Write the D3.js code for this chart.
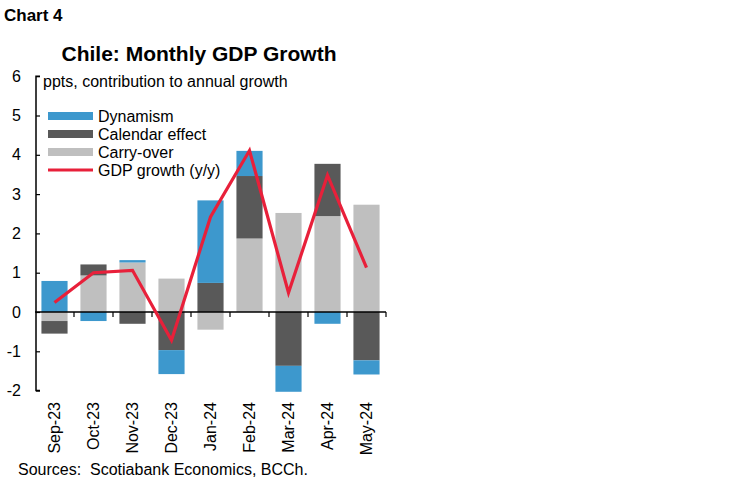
<!DOCTYPE html>
<html>
<head>
<meta charset="utf-8">
<script src="https://cdn.jsdelivr.net/npm/d3@7"></script>
<style>
  body { margin: 0; background: #fff; }
  svg text { font-family: "Liberation Sans", Arial, sans-serif; }
</style>
</head>
<body>
<svg id="chart" width="748" height="483"></svg>
<script>
// chart data
const months = ['Sep-23', 'Oct-23', 'Nov-23', 'Dec-23', 'Jan-24', 'Feb-24', 'Mar-24', 'Apr-24', 'May-24'];
const carryOver = [-0.23, 0.93, 1.26, 0.85, -0.45, 1.87, 2.52, 2.44, 2.73];
const calendarEffect = [-0.32, 0.28, -0.30, -0.97, 0.74, 1.59, -1.37, 1.33, -1.23];
const dynamism = [0.79, -0.23, 0.06, -0.61, 2.10, 0.64, -0.66, -0.30, -0.36];
const gdpGrowth = [0.24, 1.00, 1.06, -0.72, 2.42, 4.11, 0.49, 3.48, 1.13];
const yTicks = [-2, -1, 0, 1, 2, 3, 4, 5, 6];

const colors = { carry: '#bfbfbf', calendar: '#595959', dyn: '#3d98cd', gdp: '#e8203a' };

const svg = d3.select('#chart');

// table for the stack layout (carry-over sits next to zero)
const rows = months.map((m, i) => ({ month: m, carry: carryOver[i], calendar: calendarEffect[i], dyn: dynamism[i] }));
const series = d3.stack()
  .keys(['carry', 'calendar', 'dyn'])
  .offset(d3.stackOffsetDiverging)(rows);

const x = d3.scaleBand()
  .domain(months)
  .range([35, 386])
  .paddingInner(0.33)
  .paddingOuter(0.165);

const y = d3.scaleLinear()
  .domain([-2, 6])
  .range([390.6, 76.2]);

// bars
svg.append('g')
  .selectAll('g')
  .data(series)
  .join('g')
  .attr('fill', (d) => colors[d.key])
  .selectAll('rect')
  .data((d) => d)
  .join('rect')
  .attr('x', (d) => x(d.data.month))
  .attr('width', x.bandwidth())
  .attr('y', (d) => y(Math.max(d[0], d[1])))
  .attr('height', (d) => Math.abs(y(d[0]) - y(d[1])));

// zero axis with ticks between categories
const step = x.step();
const x0 = x.range()[0];
const xAxis = svg.append('g');
xAxis.append('line')
  .attr('x1', x0).attr('x2', x.range()[1])
  .attr('y1', y(0)).attr('y2', y(0))
  .attr('stroke', '#000').attr('stroke-width', 1.5);
xAxis.selectAll('.xt')
  .data(d3.range(1, months.length + 1))
  .join('line')
  .attr('class', 'xt')
  .attr('x1', (k) => x0 + k * step).attr('x2', (k) => x0 + k * step)
  .attr('y1', y(0)).attr('y2', y(0) + 5)
  .attr('stroke', '#000').attr('stroke-width', 1.2);

// month labels along the bottom
svg.append('g')
  .selectAll('text')
  .data(months)
  .join('text')
  .attr('transform', (d) => `translate(${x(d) + x.bandwidth() / 2 + 5.5},402) rotate(-90)`)
  .attr('text-anchor', 'end')
  .attr('font-size', 16)
  .attr('fill', '#000')
  .text((d) => d);

// y axis
const yAxis = d3.axisRight(y).tickValues(yTicks).tickSize(4).tickFormat((d) => d);
const yg = svg.append('g')
  .attr('transform', 'translate(36,0)')
  .call(yAxis);
yg.select('.domain').attr('stroke', '#000').attr('stroke-width', 1.5).attr('d', `M4,${y(6)}H0V${y(-2)}H4`);
yg.selectAll('.tick line').attr('stroke', '#000').attr('stroke-width', 1.2);
yg.selectAll('.tick text')
  .attr('x', -15)
  .attr('text-anchor', 'end')
  .attr('font-size', 16)
  .attr('font-family', '"Liberation Sans", Arial, sans-serif')
  .attr('fill', '#000');

// GDP line
const gdpLine = d3.line()
  .x((d, i) => x(months[i]) + x.bandwidth() / 2)
  .y((d) => y(d));
svg.append('path')
  .datum(gdpGrowth)
  .attr('d', gdpLine)
  .attr('fill', 'none')
  .attr('stroke', colors.gdp)
  .attr('stroke-width', 3.2)
  .attr('stroke-linejoin', 'miter');

// legend
const legendItems = [
  { label: 'Dynamism', key: 'dyn', type: 'bar' },
  { label: 'Calendar effect', key: 'calendar', type: 'bar' },
  { label: 'Carry-over', key: 'carry', type: 'bar' },
  { label: 'GDP growth (y/y)', key: 'gdp', type: 'line' }
];
const legend = svg.append('g').attr('transform', 'translate(48,116)');
const li = legend.selectAll('g')
  .data(legendItems)
  .join('g')
  .attr('transform', (d, i) => `translate(0,${i * 18})`);
li.filter((d) => d.type === 'bar')
  .append('rect')
  .attr('x', 0).attr('y', -4)
  .attr('width', 45).attr('height', 8)
  .attr('fill', (d) => colors[d.key]);
li.filter((d) => d.type === 'line')
  .append('line')
  .attr('x1', 0).attr('x2', 45)
  .attr('stroke', colors.gdp).attr('stroke-width', 3);
li.append('text')
  .attr('x', 50)
  .attr('y', 5.5)
  .attr('font-size', 16)
  .attr('fill', '#000')
  .text((d) => d.label);

// titles and notes
svg.append('text')
  .attr('x', 4).attr('y', 21)
  .attr('font-family', 'Lato, "Open Sans", sans-serif')
  .attr('font-weight', 'bold')
  .attr('font-size', 17)
  .text('Chart 4');
svg.append('text')
  .attr('x', 199).attr('y', 61)
  .attr('text-anchor', 'middle')
  .attr('font-weight', 'bold')
  .attr('font-size', 21)
  .text('Chile: Monthly GDP Growth');
svg.append('text')
  .attr('x', 43).attr('y', 87)
  .attr('font-size', 16)
  .text('ppts, contribution to annual growth');
svg.append('text')
  .attr('x', 18).attr('y', 475)
  .attr('font-size', 16)
  .attr('xml:space', 'preserve')
  .style('white-space', 'pre')
  .text('Sources:  Scotiabank Economics, BCCh.');
</script>
</body>
</html>
